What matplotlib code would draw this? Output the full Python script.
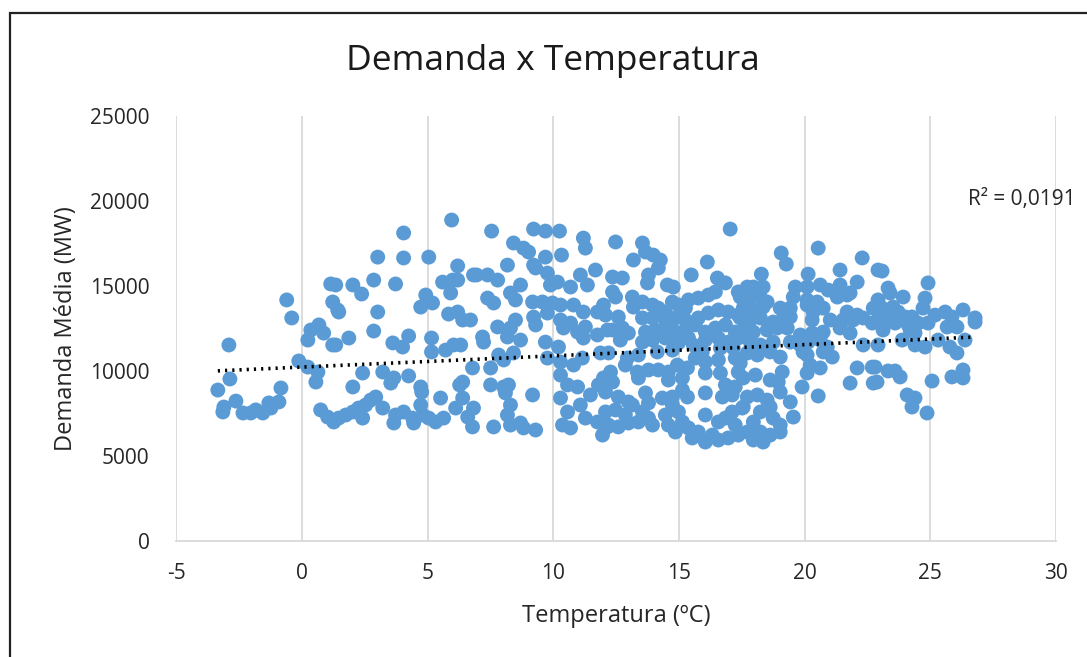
import numpy as np
import matplotlib.pyplot as plt
from matplotlib.patches import Rectangle

plt.rcParams['font.family'] = ['Open Sans', 'DejaVu Sans']
plt.rcParams['axes.unicode_minus'] = False

# temperatura media diaria (ºC) e demanda media (MW)
temp_frio = [-3.34, -3.10, -3.14, -2.90, -2.86, -2.62, -2.34, -2.03, -1.83, -1.55,
             -1.23, -1.31, -0.91, -0.83, -0.60, -0.40, -0.12, 0.24, 0.24, 0.36,
             0.68, 0.87, 1.23, 1.15, 1.23, 1.43, 0.64, 0.56, 0.75, 1.03, 1.27]
dem_frio = [8880, 7880, 7590, 11530, 9530, 8230, 7530, 7530, 7710, 7530,
            7820, 8120, 8180, 9000, 14180, 13120, 10590, 10230, 11820, 12410,
            12710, 12230, 11530, 15120, 14060, 13590, 9940, 9350, 7710, 7290, 7000]

temp_ameno = [5.96, 4.05, 3.02, 4.05, 5.05, 6.20, 1.35, 2.03, 2.86, 3.73,
              2.38, 5.60, 6.00, 6.20, 5.92, 6.83, 4.93, 5.20, 4.73, 1.47,
              3.02, 5.84, 6.20, 6.40, 6.71, 2.86, 1.87, 1.35, 3.62, 4.01,
              4.25, 5.16, 5.16, 5.72, 6.04, 6.32, 2.42, 3.22, 3.66, 3.54,
              4.25, 2.03, 4.73, 4.77, 6.40, 6.28, 6.79, 2.94, 2.74, 2.54,
              2.26, 2.03, 1.75, 1.47, 3.22, 2.42, 3.73, 3.66, 4.05, 4.41,
              4.45, 4.73, 4.81, 5.05, 5.32, 5.52, 5.64, 6.12, 6.40, 6.60,
              6.83, 6.79]
dem_ameno = [18880, 18120, 16700, 16650, 16700, 16180, 15060, 15060, 15350, 15120,
             14530, 15230, 15350, 15350, 14590, 15650, 14470, 14000, 13760, 13470,
             13470, 13350, 13470, 13000, 13000, 12350, 11940, 11530, 11650, 11410,
             12060, 11940, 11120, 11230, 11530, 11530, 9880, 9940, 9590, 9290,
             9710, 9060, 9060, 8760, 9350, 9180, 10180, 8470, 8290, 8000,
             7820, 7590, 7410, 7230, 7820, 7230, 7410, 6940, 7590, 7230,
             6940, 8000, 7410, 7230, 7000, 8410, 7230, 7820, 8410, 7290,
             7820, 6710]

temp_medio = [7.55, 9.22, 9.69, 10.25, 8.42, 8.82, 9.02, 9.69, 10.33, 11.20,
              11.28, 8.18, 6.95, 7.39, 7.79, 9.22, 9.30, 9.77, 10.17, 9.89,
              11.08, 11.68, 11.36, 10.69, 8.30, 8.70, 8.50, 7.39, 7.63, 9.18,
              9.57, 9.97, 10.29, 10.81, 11.20, 11.76, 12.00, 9.22, 9.77, 8.50,
              8.30, 7.79, 9.30, 10.29, 10.41, 10.69, 10.97, 11.28, 11.20, 11.76,
              12.16, 7.19, 7.23, 8.18, 8.70, 9.69, 10.21, 7.51, 8.03, 7.83,
              8.42, 9.77, 10.29, 10.81, 11.16, 11.88, 7.51, 8.03, 8.22, 8.10,
              8.30, 9.18, 7.63, 8.18, 8.30, 8.70, 8.82, 9.30, 10.29, 10.57,
              10.97, 10.29, 10.57, 10.37, 10.69, 11.08, 11.48, 11.80, 12.00, 11.28,
              11.76, 12.16, 11.96]
dem_medio = [18230, 18350, 18230, 18230, 17530, 17230, 17000, 16700, 16820, 17820,
             17230, 16230, 15650, 15650, 15350, 16230, 16060, 15760, 15230, 15060,
             15650, 15940, 15060, 14940, 14590, 15060, 14180, 14290, 14000, 14060,
             14060, 14000, 13880, 13880, 13470, 13470, 13880, 13170, 13410, 13000,
             12530, 12590, 12710, 13000, 12530, 12820, 12290, 12590, 11940, 12120,
             12410, 12000, 11700, 12000, 11820, 11700, 11410, 10180, 10650, 10940,
             11060, 10760, 10530, 10350, 10760, 11060, 9180, 9060, 9180, 8710,
             8000, 8590, 6710, 7410, 6820, 6940, 6650, 6530, 9760, 9180,
             9060, 8410, 7590, 6820, 6650, 8000, 8590, 9180, 9590, 7230,
             7000, 6710, 6230]

temp_quente = [17.04, 12.48, 13.55, 13.67, 13.19, 13.98, 14.26, 14.18, 16.13, 15.49,
               16.53, 16.85, 12.36, 12.75, 13.79, 13.75, 14.54, 14.78, 12.36, 12.48,
               13.15, 13.19, 15.38, 15.77, 16.17, 16.45, 17.36, 13.55, 13.95, 14.18,
               14.46, 14.74, 14.98, 15.26, 12.08, 12.59, 13.55, 13.95, 14.46, 14.86,
               15.26, 15.77, 16.17, 16.57, 16.96, 17.36, 12.36, 12.75, 12.99, 12.67,
               13.67, 14.06, 14.58, 14.86, 15.26, 15.65, 16.05, 16.45, 16.85, 17.24,
               13.55, 13.95, 14.46, 14.98, 15.38, 16.05, 16.57, 16.96, 17.36, 12.20,
               12.95, 13.39, 14.14, 14.74, 15.57, 15.93, 16.65, 17.16, 15.65, 16.05,
               16.57, 17.24, 12.87, 13.35, 13.79, 14.18, 14.58, 14.94, 15.34, 16.05,
               16.65, 16.85, 17.36, 12.28, 12.36, 13.39, 14.58, 15.14, 12.08, 12.59,
               12.99, 13.67, 13.79, 14.34, 14.74, 15.14, 15.34, 16.05, 16.73, 17.12,
               17.24, 12.08, 12.48, 12.87, 13.15, 13.55, 13.95, 14.46, 14.74, 14.98,
               12.20, 12.59, 12.99, 13.39, 13.79, 14.58, 14.86, 15.14, 15.38, 15.77,
               16.05, 16.33, 16.57, 16.85, 17.24, 17.36, 17.12, 17.52, 15.53, 16.05,
               16.57, 16.96]
dem_quente = [18350, 17590, 17530, 17000, 16530, 16820, 16530, 16060, 16410, 15650,
              15470, 15180, 15530, 15470, 15650, 15180, 15060, 14940, 14650, 14350,
              14350, 13760, 14180, 14290, 14470, 14650, 14650, 14060, 13880, 13700,
              13470, 14060, 13880, 13700, 13290, 13180, 13120, 13120, 13000, 13120,
              13000, 13120, 13410, 13590, 13470, 13290, 12410, 12530, 12230, 11820,
              12290, 12410, 12530, 12290, 12410, 12710, 12290, 12530, 12710, 12290,
              11700, 11820, 11940, 11650, 11940, 11820, 11940, 11700, 11940, 11060,
              10760, 10940, 11120, 11230, 11530, 11120, 11350, 11350, 10760, 10530,
              10650, 10760, 10350, 9940, 10060, 10060, 9940, 10350, 10180, 9880,
              9880, 9180, 9940, 9940, 9350, 9590, 9470, 9590, 8760, 8470,
              8180, 8710, 8120, 8410, 8470, 8880, 8470, 8710, 8470, 8590,
              9060, 7590, 7710, 7410, 8000, 7590, 6820, 7410, 8000, 7590,
              6820, 6710, 6940, 7000, 7230, 6820, 6410, 7000, 6650, 6410,
              7410, 6230, 7000, 7230, 6820, 6230, 7590, 7820, 6060, 5820,
              5940, 6060]

temp_verao = [19.07, 19.27, 20.54, 22.29, 22.92, 18.28, 20.14, 21.41, 22.09, 17.72,
              17.96, 18.35, 19.63, 20.10, 20.62, 20.94, 21.41, 21.81, 17.44, 17.84,
              18.24, 18.51, 19.55, 20.10, 20.50, 21.30, 21.69, 17.56, 17.96, 18.35,
              19.03, 19.43, 20.10, 20.34, 20.74, 21.69, 22.09, 22.73, 17.44, 17.84,
              18.24, 18.75, 19.15, 19.43, 20.30, 21.02, 21.53, 21.93, 22.33, 22.69,
              17.56, 17.96, 18.51, 18.91, 19.31, 19.83, 20.30, 20.74, 21.41, 21.81,
              17.84, 18.24, 18.75, 19.43, 19.83, 20.14, 20.62, 20.90, 17.72, 18.12,
              18.63, 19.03, 19.94, 20.10, 20.74, 21.10, 22.33, 17.44, 20.62, 20.22,
              20.10, 22.09, 22.69, 17.56, 18.04, 18.63, 19.11, 18.95, 19.90, 21.81,
              22.73, 17.72, 18.12, 18.51, 19.03, 19.43, 17.56, 20.54, 18.24, 18.63,
              18.75, 19.03, 19.55, 17.96, 17.72, 18.24, 18.63, 19.03, 17.96, 18.35]
dem_verao = [16940, 16290, 17230, 16650, 15940, 15700, 15700, 15940, 15230, 14940,
             14940, 14940, 14940, 14940, 15060, 14760, 15060, 14590, 14350, 14290,
             14350, 14060, 14350, 14180, 14060, 14350, 14470, 13700, 13590, 13760,
             13700, 13700, 13880, 13470, 13700, 13470, 13290, 13700, 13120, 13000,
             13120, 12880, 13120, 13180, 13000, 13000, 13000, 13000, 13120, 12820,
             12410, 12290, 12410, 12530, 12530, 12120, 12230, 12290, 12530, 12230,
             11700, 11530, 11700, 11700, 11530, 11700, 11820, 11410, 11060, 10940,
             11120, 10820, 11120, 10940, 11120, 10820, 11530, 10470, 10180, 10350,
             9880, 10180, 10230, 9590, 9760, 9470, 9940, 9350, 9060, 9290,
             9290, 8470, 8590, 8290, 8760, 8180, 7880, 8530, 7590, 7880,
             7230, 6820, 7290, 7000, 6410, 6410, 6230, 6410, 5940, 5820]

temp_fim = [23.08, 24.91, 23.32, 23.40, 23.92, 24.79, 24.71, 22.92, 23.08, 23.52,
            23.72, 26.30, 26.78, 26.78, 25.59, 25.19, 25.86, 24.27, 24.00, 22.92,
            23.28, 23.60, 24.12, 24.51, 24.91, 25.67, 26.06, 24.20, 23.12, 24.39,
            23.88, 25.31, 26.38, 22.92, 24.39, 24.79, 25.78, 26.06, 22.80, 23.32,
            23.60, 23.80, 22.88, 25.07, 25.86, 26.30, 26.30, 24.08, 24.39, 24.27,
            24.87]
dem_fim = [15880, 15180, 14880, 14590, 14350, 14290, 13700, 14180, 13700, 13760,
           13470, 13590, 13120, 12880, 13470, 13290, 13180, 13180, 13180, 13000,
           13120, 12820, 12710, 12820, 12820, 12590, 12590, 12410, 12410, 12230,
           11820, 11820, 11820, 11530, 11530, 11410, 11410, 11060, 10230, 10000,
           10000, 9650, 9350, 9410, 9650, 10060, 9590, 8590, 8410, 7880,
           7530]

# tendencia linear do Excel (MW = intercepto + inclinacao * ºC)
tend_intercepto = 10230
tend_inclinacao = 66
r2_texto = 'R² = 0,0191'

temperatura = np.array(temp_frio + temp_ameno + temp_medio + temp_quente + temp_verao + temp_fim)
demanda = np.array(dem_frio + dem_ameno + dem_medio + dem_quente + dem_verao + dem_fim)

fig = plt.figure(figsize=(10.87, 6.57), dpi=100)
ax = fig.add_axes([0.162, 0.1766, 0.8095, 0.6468])

ax.scatter(temperatura, demanda, s=115, color='#5B9BD5', edgecolors='none', zorder=3)

xs = np.array([temperatura.min(), temperatura.max()])
ax.plot(xs, tend_intercepto + tend_inclinacao * xs, linestyle=(0, (0.6, 1.4)),
        color='black', linewidth=2.6, dash_capstyle='butt', zorder=4)

ax.set_xlim(-5, 30)
ax.set_ylim(0, 25000)
ax.set_xticks(range(-5, 31, 5))
ax.set_yticks(range(0, 25001, 5000))
ax.grid(axis='x', color='#d9d9d9', linewidth=1.3, zorder=0)
for lado in ['top', 'left', 'right']:
    ax.spines[lado].set_visible(False)
ax.spines['bottom'].set_color('#d9d9d9')
ax.spines['bottom'].set_linewidth(1.3)
ax.tick_params(axis='x', length=0, labelsize=15, colors='#262626', pad=16)
ax.tick_params(axis='y', length=0, labelsize=15, colors='#262626', pad=19)

ax.set_xlabel('Temperatura (ºC)', fontsize=17, color='#262626', labelpad=14)
ax.set_ylabel('Demanda Média (MW)', fontsize=17, color='#262626', labelpad=9)
fig.text(0.5087, 0.907, 'Demanda x Temperatura', fontsize=25.5, color='#1a1a1a',
         ha='center', va='center')
fig.text(0.8905, 0.696, r2_texto, fontsize=15, color='#262626', ha='left', va='center')

# moldura do grafico
fig.patches.append(Rectangle((10 / 1087, -0.05), 1.2, 0.05 + 1 - 13 / 657,
                             transform=fig.transFigure, fill=False,
                             edgecolor='#222222', linewidth=1.6))

fig.savefig('out.png', dpi=100)
